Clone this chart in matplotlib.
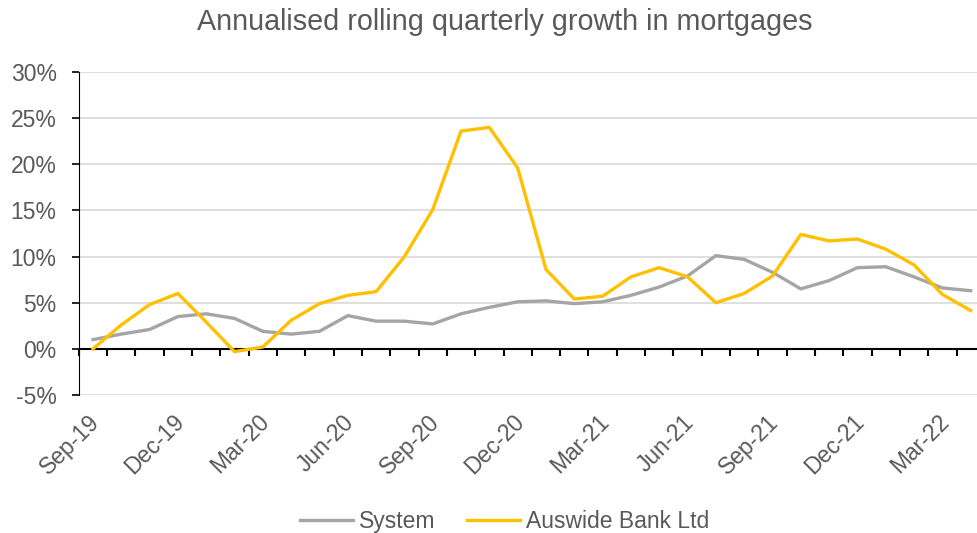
import numpy as np
import matplotlib; matplotlib.use("Agg"); import matplotlib.pyplot as plt
from matplotlib.ticker import FixedLocator, FuncFormatter
from matplotlib.transforms import ScaledTranslation

plt.rcParams["font.family"] = ["Liberation Sans", "DejaVu Sans"]
TXT = "#595959"

months = ["Sep-19", "Oct-19", "Nov-19", "Dec-19", "Jan-20", "Feb-20", "Mar-20", "Apr-20",
          "May-20", "Jun-20", "Jul-20", "Aug-20", "Sep-20", "Oct-20", "Nov-20", "Dec-20",
          "Jan-21", "Feb-21", "Mar-21", "Apr-21", "May-21", "Jun-21", "Jul-21", "Aug-21",
          "Sep-21", "Oct-21", "Nov-21", "Dec-21", "Jan-22", "Feb-22", "Mar-22", "Apr-22"]
system = [1.0, 1.6, 2.1, 3.5, 3.8, 3.3, 1.9, 1.6, 1.9, 3.6, 3.0, 3.0, 2.7, 3.8, 4.5, 5.1,
          5.2, 4.9, 5.1, 5.8, 6.7, 7.9, 10.1, 9.7, 8.3, 6.5, 7.4, 8.8, 8.9, 7.8, 6.6, 6.3]
auswide = [0.0, 2.6, 4.8, 6.0, 2.9, -0.3, 0.2, 3.1, 4.9, 5.8, 6.2, 10.0, 15.1, 23.6, 24.0, 19.6,
           8.6, 5.4, 5.7, 7.8, 8.8, 7.8, 5.0, 6.0, 7.9, 12.4, 11.7, 11.9, 10.8, 9.1, 5.9, 4.15]

fig = plt.figure(figsize=(9.78, 5.33), dpi=100)
ax = fig.add_axes([0.0806, 0.2589, 0.9264, 0.606])
x = np.arange(len(months))
ax.axhline(0, color="black", lw=1.5, zorder=2.5)
ax.plot(x, system, color="#A5A5A5", lw=2.4, label="System", solid_joinstyle="round", zorder=3)
ax.plot(x, auswide, color="#FFC000", lw=2.4, label="Auswide Bank Ltd", solid_joinstyle="round", zorder=3)

ax.set_xlim(-0.5, len(months) - 0.5)
ax.set_ylim(-5, 30)
ax.set_yticks(np.arange(-5, 31, 5))
ax.yaxis.set_major_formatter(FuncFormatter(lambda v, p: f"{v:.0f}%"))
ax.grid(axis="y", color="#D9D9D9", lw=1.2)
ax.set_axisbelow(True)
for s in ["top", "right", "bottom"]:
    ax.spines[s].set_visible(False)
ax.spines["left"].set_color("black")
ax.tick_params(axis="y", length=5, width=1.2, colors="black", labelcolor=TXT, labelsize=16.5, pad=11)

# category labels every quarter, below the plot
ax.set_xticks(x[::3])
ax.set_xticklabels(months[::3], rotation=45, ha="right", va="center", rotation_mode="anchor",
                   color=TXT, fontsize=16.5)
ax.tick_params(axis="x", length=0, pad=17)
shift = ScaledTranslation(3 / 100, 0, fig.dpi_scale_trans)
for lab in ax.get_xticklabels():
    lab.set_transform(lab.get_transform() + shift)

# boundary ticks on the zero axis
sec = ax.secondary_xaxis(5 / 35)
sec.spines["bottom"].set_visible(False)
sec.xaxis.set_major_locator(FixedLocator(np.arange(-0.5, len(months), 1.0)))
sec.tick_params(axis="x", length=5, width=1.5, colors="black", labelbottom=False)

fig.text(0.516, 0.958, "Annualised rolling quarterly growth in mortgages", ha="center", va="center",
         fontsize=20.7, color=TXT)
fig.legend(loc="center", bbox_to_anchor=(0.516, 0.022), ncol=2, frameon=False, fontsize=16.5,
           handlelength=2.3, handletextpad=0.25, columnspacing=1.4, labelcolor=TXT)

fig.savefig("out.png", dpi=100)
